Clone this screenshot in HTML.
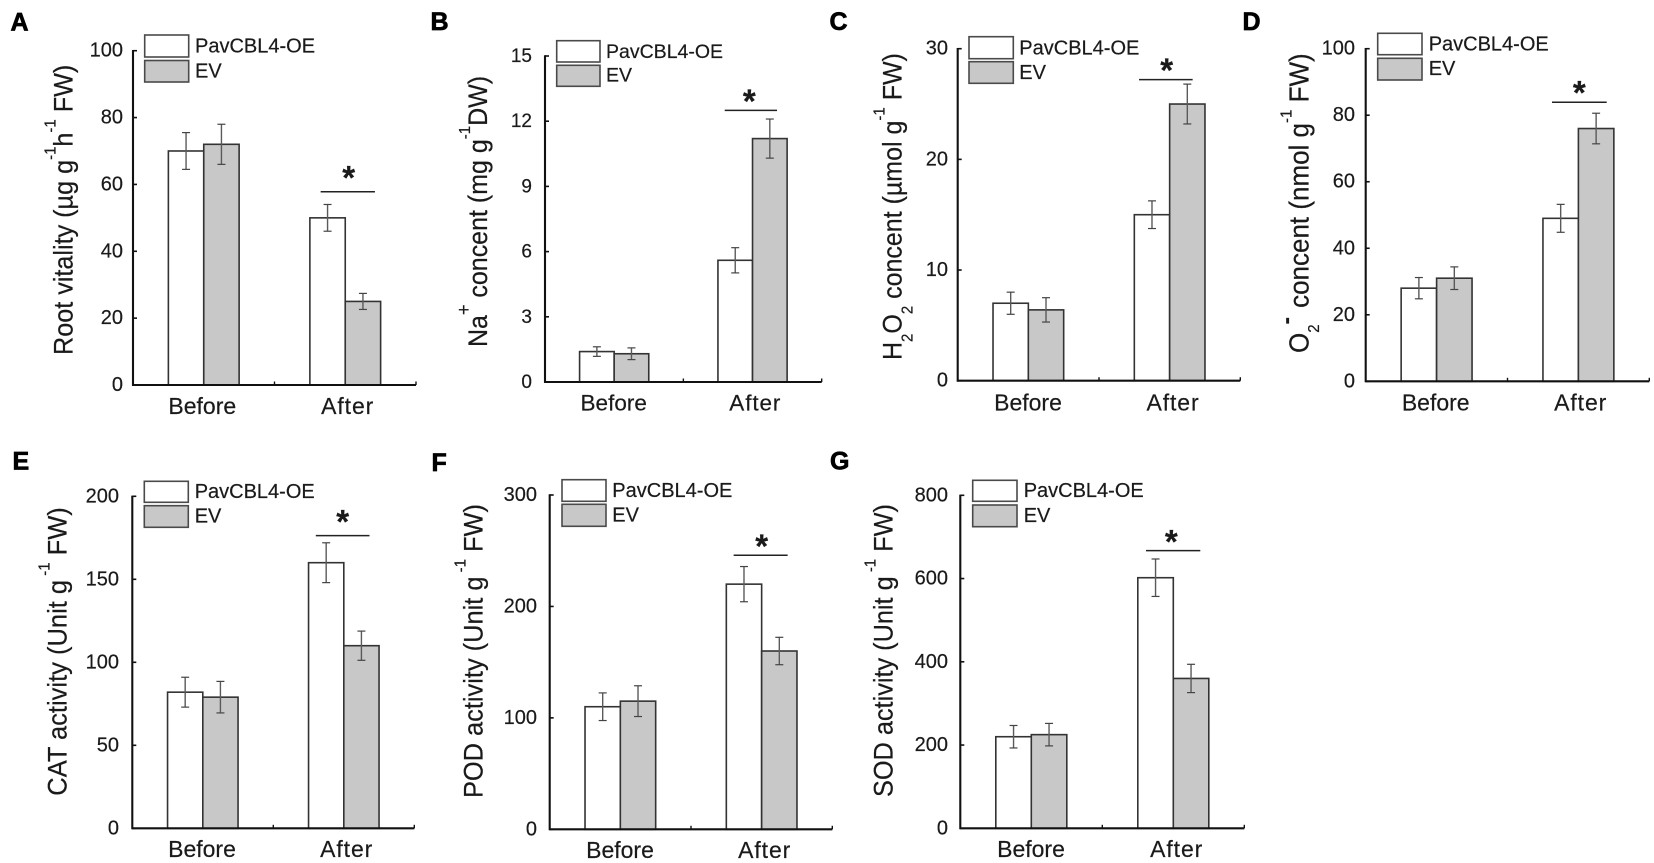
<!DOCTYPE html>
<html lang="en">
<head>
<meta charset="utf-8">
<title>PavCBL4-OE physiological measurements</title>
<style>
html,body{margin:0;padding:0;background:#fff;}
svg{display:block;}
text{font-family:"Liberation Sans",Arial,sans-serif;fill:#1a1a1a;stroke:#1a1a1a;stroke-width:.2px;}
.letter{font-size:25px;font-weight:bold;fill:#000;stroke:#000;stroke-width:.7px;}
.ytitle{font-size:25px;}
.sup{font-size:15px;}
.leg{font-size:20px;}
.box{stroke:#4a4a4a;stroke-width:1.6px;}
</style>
</head>
<body>
<svg id="fig" width="1654" height="863" viewBox="0 0 1654 863" xmlns="http://www.w3.org/2000/svg">
  <rect width="1654" height="863" fill="#fff"/>

  <!-- Panel letters -->
  <text class="letter" x="10.5" y="30.5">A</text>
  <text class="letter" x="430.5" y="30">B</text>
  <text class="letter" x="829.5" y="30">C</text>
  <text class="letter" x="1242.5" y="30">D</text>
  <text class="letter" x="12.5" y="469.7">E</text>
  <text class="letter" x="431.5" y="471">F</text>
  <text class="letter" x="830" y="469.7">G</text>

  <!-- Y-axis titles -->
  <text class="ytitle" style="font-size:25.2px" transform="translate(72.3 355) rotate(-90) scale(1 1.06)">Root vitality (µg g<tspan class="sup" dy="-16">-1</tspan><tspan dy="16">h</tspan><tspan class="sup" dy="-16">-1</tspan><tspan dy="16"> FW)</tspan></text>
  <text class="ytitle" transform="translate(487 347) rotate(-90) scale(1 1.06)">Na<tspan class="sup" style="font-size:18px" dy="-16">+</tspan><tspan dy="16"> concent (mg g</tspan><tspan class="sup" dy="-16">-1</tspan><tspan dy="16">DW)</tspan></text>
  <text class="ytitle" transform="translate(901.7 360) rotate(-90) scale(1 1.06)">H<tspan class="sup" dy="10">2</tspan><tspan dy="-10">O</tspan><tspan class="sup" dy="10">2</tspan><tspan dy="-10"> concent (µmol g</tspan><tspan class="sup" dy="-16">-1</tspan><tspan dy="16"> FW)</tspan></text>
  <text class="ytitle" style="font-size:26px" transform="translate(1308.3 353) rotate(-90) scale(1 1.06)">O<tspan class="sup" dy="10">2</tspan><tspan class="sup" style="font-size:22px;font-weight:bold" dy="-24">-</tspan><tspan dx="2" dy="14"> concent (nmol g</tspan><tspan class="sup" dy="-16">-1</tspan><tspan dy="16"> FW)</tspan></text>
  <text class="ytitle" style="font-size:25.5px" transform="translate(66.7 795.7) rotate(-90) scale(1 1.06)">CAT activity (Unit g<tspan class="sup" dy="-16"> -1</tspan><tspan dy="16"> FW)</tspan></text>
  <text class="ytitle" style="font-size:25.4px" transform="translate(482.7 798) rotate(-90) scale(1 1.06)">POD activity (Unit g<tspan class="sup" dy="-16"> -1</tspan><tspan dy="16"> FW)</tspan></text>
  <text class="ytitle" style="font-size:25.3px" transform="translate(892.3 797) rotate(-90) scale(1 1.06)">SOD activity (Unit g<tspan class="sup" dy="-16"> -1</tspan><tspan dy="16"> FW)</tspan></text>

  <!-- Legends -->
  <g>
    <rect class="box" x="144.7" y="35" width="44" height="22" fill="#fff"/>
    <rect class="box" x="144.7" y="60.5" width="44" height="21.5" fill="#c8c8c8"/>
    <text class="leg" x="195" y="52.7">PavCBL4-OE</text>
    <text class="leg" x="195" y="77.3">EV</text>
  </g>
  <g>
    <rect class="box" x="556.7" y="40.7" width="43.3" height="21.3" fill="#fff"/>
    <rect class="box" x="556.7" y="65.3" width="43.3" height="21" fill="#c8c8c8"/>
    <text class="leg" style="font-size:19.5px" x="606" y="58">PavCBL4-OE</text>
    <text class="leg" style="font-size:19.5px" x="606" y="81.7">EV</text>
  </g>
  <g>
    <rect class="box" x="969" y="36.7" width="44.3" height="22" fill="#fff"/>
    <rect class="box" x="969" y="61.7" width="44.3" height="21.6" fill="#c8c8c8"/>
    <text class="leg" x="1019.3" y="54.7">PavCBL4-OE</text>
    <text class="leg" x="1019.3" y="79">EV</text>
  </g>
  <g>
    <rect class="box" x="1377.7" y="33.3" width="44.3" height="21.4" fill="#fff"/>
    <rect class="box" x="1377.7" y="58.3" width="44.3" height="21.7" fill="#c8c8c8"/>
    <text class="leg" x="1428.7" y="50.7">PavCBL4-OE</text>
    <text class="leg" x="1428.7" y="75">EV</text>
  </g>
  <g>
    <rect class="box" x="144.3" y="481.3" width="44" height="21" fill="#fff"/>
    <rect class="box" x="144.3" y="505.7" width="44" height="21.6" fill="#c8c8c8"/>
    <text class="leg" x="194.7" y="498">PavCBL4-OE</text>
    <text class="leg" x="194.7" y="522.3">EV</text>
  </g>
  <g>
    <rect class="box" x="562" y="479.7" width="44" height="21.6" fill="#fff"/>
    <rect class="box" x="562" y="504.3" width="44" height="22" fill="#c8c8c8"/>
    <text class="leg" x="612.3" y="497">PavCBL4-OE</text>
    <text class="leg" x="612.3" y="521.3">EV</text>
  </g>
  <g>
    <rect class="box" x="972.7" y="480.3" width="44.3" height="21" fill="#fff"/>
    <rect class="box" x="972.7" y="505" width="44.3" height="21.7" fill="#c8c8c8"/>
    <text class="leg" x="1023.7" y="497">PavCBL4-OE</text>
    <text class="leg" x="1023.7" y="522">EV</text>
  </g>

  <g id="plots"></g>
</svg>

<script>
// ---- Shared categories ----
const categories = ['Before', 'After'];

// ---- Panel A: root vitality ----
const ticksA = [0, 20, 40, 60, 80, 100];
const oeA = [70, 50];
const evA = [72, 25];
const oeErrA = [5.5, 4];
const evErrA = [6, 2.4];
const sigA = 57.8;

// ---- Panel B: Na+ content ----
const ticksB = [0, 3, 6, 9, 12, 15];
const oeB = [1.4, 5.6];
const evB = [1.3, 11.2];
const oeErrB = [0.22, 0.58];
const evErrB = [0.27, 0.9];
const sigB = 12.5;

// ---- Panel C: H2O2 content ----
const ticksC = [0, 10, 20, 30];
const oeC = [7, 15];
const evC = [6.4, 25];
const oeErrC = [1, 1.25];
const evErrC = [1.1, 1.8];
const sigC = 27.2;

// ---- Panel D: O2- content ----
const ticksD = [0, 20, 40, 60, 80, 100];
const oeD = [28, 49];
const evD = [31, 76];
const oeErrD = [3.2, 4.2];
const evErrD = [3.4, 4.6];
const sigD = 83.9;

// ---- Panel E: CAT activity ----
const ticksE = [0, 50, 100, 150, 200];
const oeE = [82, 160];
const evE = [79, 110];
const oeErrE = [9, 12];
const evErrE = [9.5, 8.8];
const sigE = 176.3;

// ---- Panel F: POD activity ----
const ticksF = [0, 100, 200, 300];
const oeF = [110, 220];
const evF = [115, 160];
const oeErrF = [12.4, 15.8];
const evErrF = [13.8, 12.3];
const sigF = 245.9;

// ---- Panel G: SOD activity ----
const ticksG = [0, 200, 400, 600, 800];
const oeG = [220, 602];
const evG = [225, 360];
const oeErrG = [27, 45];
const evErrG = [27, 34];
const sigG = 667;

// Frame geometry for each panel (separate from the data above).
const frames = [
  {id:'a', ticks:ticksA, oe:oeA, ev:evA, oeErr:oeErrA, evErr:evErrA, sig:sigA, x0:133,   y0:385,   top:50.7, xEnd:416,    labelX:[202.3,347.7], labelY:414, tickRight:123, tickFont:20, catFont:23, sigL:-24.6, sigR:29.7, starX:348.7, starDy:-18},
  {id:'b', ticks:ticksB, oe:oeB, ev:evB, oeErr:oeErrB, evErr:evErrB, sig:sigB, x0:545,   y0:382,   top:56,   xEnd:821.7,  labelX:[613.7,755.3], labelY:410.3, tickRight:532, tickFont:19, catFont:22.5, sigL:-27.8, sigR:24.5, starX:749.3, starDy:-12.7},
  {id:'c', ticks:ticksC, oe:oeC, ev:evC, oeErr:oeErrC, evErr:evErrC, sig:sigC, x0:957.7, y0:380.7, top:48.7, xEnd:1240.3, labelX:[1028,1173], labelY:410.7, tickRight:948, tickFont:20, catFont:23, sigL:-30.6, sigR:23, starX:1166.7, starDy:-13},
  {id:'d', ticks:ticksD, oe:oeD, ev:evD, oeErr:oeErrD, evErr:evErrD, sig:sigD, x0:1365.7,y0:381.3, top:48.7, xEnd:1649.3, labelX:[1435.7,1580.7], labelY:410.7, tickRight:1355, tickFont:20, catFont:23, sigL:-26.4, sigR:28.3, starX:1579.3, starDy:-13},
  {id:'e', ticks:ticksE, oe:oeE, ev:evE, oeErr:oeErrE, evErr:evErrE, sig:sigE, x0:132.3, y0:828.3, top:496.3,xEnd:414.3,  labelX:[202,346.7], labelY:857, tickRight:119, tickFont:20, catFont:23, sigL:-28, sigR:25.7, starX:342.7, starDy:-17.7},
  {id:'f', ticks:ticksF, oe:oeF, ev:evF, oeErr:oeErrF, evErr:evErrF, sig:sigF, x0:549.7, y0:829.3, top:495,  xEnd:832.3,  labelX:[620,764.7], labelY:858, tickRight:537, tickFont:20, catFont:23, sigL:-28, sigR:26, starX:761.7, starDy:-13},
  {id:'g', ticks:ticksG, oe:oeG, ev:evG, oeErr:oeErrG, evErr:evErrG, sig:sigG, x0:960.3, y0:828.3, top:495.3,xEnd:1244.3, labelX:[1031,1176.7], labelY:857, tickRight:948, tickFont:20, catFont:23, sigL:-27.3, sigR:27, starX:1171.3, starDy:-12.7}
];

const SVGNS = 'http://www.w3.org/2000/svg';
const plots = document.getElementById('plots');

function make(tag, attrs, parent) {
  const el = document.createElementNS(SVGNS, tag);
  for (const k in attrs) el.setAttribute(k, attrs[k]);
  parent.appendChild(el);
  return el;
}

function drawErr(g, cx, yHi, yLo, yScale) {
  const st = {stroke:'#444', 'stroke-width':1.2};
  const stem = make('line', Object.assign({x1:cx, x2:cx, y1:yScale(yHi), y2:yScale(yLo)}, st, {'stroke-width':1.4, stroke:'#5a5a5a'}), g);
  
  
  const capTop = make('line', Object.assign({x1:cx-4, x2:cx+4, y1:yScale(yHi), y2:yScale(yHi)}, st), g);
  
  
  const capBottom = make('line', Object.assign({x1:cx-4, x2:cx+4, y1:yScale(yLo), y2:yScale(yLo)}, st), g);
  
  
}

frames.forEach(function (p) {
  const g = make('g', {}, plots);
  
  

  const yMax = p.ticks[p.ticks.length - 1];
  const yScale = function (v) { return p.y0 - (v / yMax) * (p.y0 - p.top); };
  const band = (p.xEnd - p.x0) / categories.length;
  const barW = band / 4;
  const catCenter = function (i) { return p.x0 + band * (i + 0.5); };

  categories.forEach(function (cat, i) {
    const c = catCenter(i);
    const oeBar = make('rect', {x:c - barW, y:yScale(p.oe[i]), width:barW, height:p.y0 - yScale(p.oe[i]), fill:'#fff', stroke:'#333', 'stroke-width':1.6}, g);
    
    
    const evBar = make('rect', {x:c, y:yScale(p.ev[i]), width:barW, height:p.y0 - yScale(p.ev[i]), fill:'#c8c8c8', stroke:'#333', 'stroke-width':1.6}, g);
    
    
    drawErr(g, c - barW / 2, p.oe[i] + p.oeErr[i], p.oe[i] - p.oeErr[i], yScale);
    drawErr(g, c + barW / 2, p.ev[i] + p.evErr[i], p.ev[i] - p.evErr[i], yScale);

    const lab = make('text', {x:p.labelX[i], y:p.labelY, 'text-anchor':'middle', 'font-size':p.catFont, 'letter-spacing': i === 1 ? 0.9 : 0}, g);
    
    
    lab.textContent = cat;
  });

  // Axes
  const yAxis = make('line', {x1:p.x0, x2:p.x0, y1:p.top - 0.7, y2:p.y0 + 1, stroke:'#111', 'stroke-width':2.1}, g);
  
  
  const xAxis = make('line', {x1:p.x0, x2:p.xEnd, y1:p.y0, y2:p.y0, stroke:'#111', 'stroke-width':2.1}, g);
  
  

  p.ticks.forEach(function (t) {
    const y = yScale(t);
    const tick = make('line', {x1:p.x0, x2:p.x0 + 4, y1:y, y2:y, stroke:'#111', 'stroke-width':1.6}, g);
    
    
    const lab = make('text', {x:p.tickRight, y:y + 6, 'text-anchor':'end', 'font-size':p.tickFont}, g);
    
    
    lab.textContent = String(t);
  });

  [1, 2].forEach(function (n) {
    const x = p.x0 + band * n;
    const tick = make('line', {x1:x, x2:x, y1:p.y0, y2:p.y0 - 3.5, stroke:'#111', 'stroke-width':1.4}, g);
    
    
  });

  // Significance marker on the "After" group
  const sc = catCenter(1);
  const sy = yScale(p.sig);
  const sigLine = make('line', {x1:sc + p.sigL, x2:sc + p.sigR, y1:sy, y2:sy, stroke:'#222', 'stroke-width':1.5}, g);
  
  
  const star = make('text', {x:p.starX, y:sy + p.starDy + 15, 'text-anchor':'middle', 'font-size':33, 'font-weight':'bold', fill:'#000'}, g);
  
  
  star.textContent = '*';
});
</script>
</body>
</html>
